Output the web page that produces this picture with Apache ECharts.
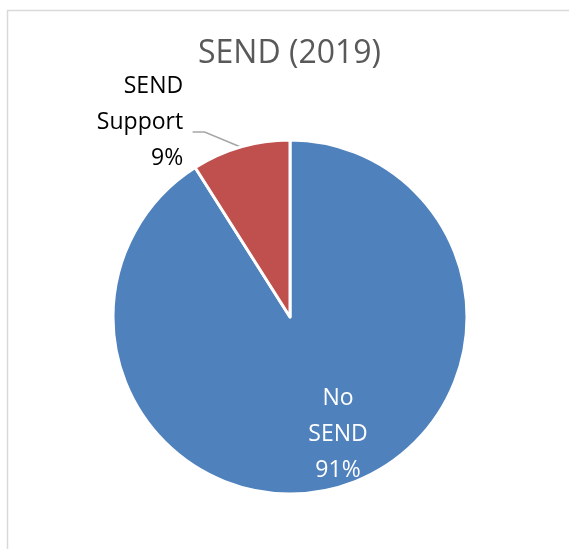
<!DOCTYPE html>
<html>
<head>
<meta charset="utf-8">
<script src="https://cdn.jsdelivr.net/npm/echarts@6/dist/echarts.min.js"></script>
<style>
  html, body { margin: 0; padding: 0; background: #ffffff; }
  #chart { width: 569px; height: 549px; }
</style>
</head>
<body>
<div id="chart"></div>
<script>
// Share of pupils with special educational needs (SEND), 2019
var chartTitle = 'SEND (2019)';
var categories = ['No\nSEND', 'SEND\nSupport'];
var percentages = [91, 9];
var sliceColors = ['#4F81BD', '#C0504D'];

var FONT = '"Open Sans", "Noto Sans", sans-serif';

// where each label block is centred
var labelCentres = [[338, 434], [140, 122]];

var pieData = categories.map(function (name, i) {
  return {
    name: name,
    value: percentages[i],
    itemStyle: { color: sliceColors[i] }
  };
});

var chart = echarts.init(document.getElementById('chart'), null, { renderer: 'canvas' });

chart.setOption({
  animation: false,
  backgroundColor: '#ffffff',
  graphic: [{
    type: 'rect',
    silent: true,
    shape: { x: 7.5, y: 10.5, width: 640, height: 640 },
    style: { fill: 'none', stroke: '#d9d9d9', lineWidth: 1.5 }
  }],
  title: {
    text: chartTitle,
    left: 198,
    top: 38,
    padding: 0,
    textStyle: {
      fontFamily: FONT,
      fontSize: 32,
      fontWeight: 'normal',
      color: '#595959'
    }
  },
  series: [{
    type: 'pie',
    center: [290, 317],
    radius: [0, 177],
    startAngle: 90,
    clockwise: true,
    avoidLabelOverlap: false,
    itemStyle: { borderColor: '#ffffff', borderWidth: 3 },
    data: pieData.map(function (d, i) {
      var inside = i === 0;
      d.label = {
        show: true,
        position: inside ? 'inside' : 'outside',
        color: inside ? '#ffffff' : '#000000',
        fontFamily: FONT,
        fontSize: 23,
        lineHeight: 36,
        align: 'center',
        formatter: function (p) { return p.name + '\n' + p.value + '%'; }
      };
      d.labelLine = inside ? { show: false } : {
        show: true,
        length: 20,
        length2: 12,
        lineStyle: { color: '#a6a6a6', width: 1.5 }
      };
      return d;
    }),
    labelLayout: function (params) {
      var r = params.labelRect;
      var c = labelCentres[params.dataIndex];
      var out = {
        dx: c[0] - (r.x + r.width / 2),
        dy: c[1] - (r.y + r.height / 2)
      };
      var pts = params.labelLinePoints;
      if (pts && pts.length) {
        var p0 = pts[0];
        out.labelLinePoints = [
          [p0[0], p0[1]],
          [p0[0] - 36, p0[1] - 15],
          [p0[0] - 48, p0[1] - 15]
        ];
      }
      return out;
    }
  }]
});
</script>
</body>
</html>
